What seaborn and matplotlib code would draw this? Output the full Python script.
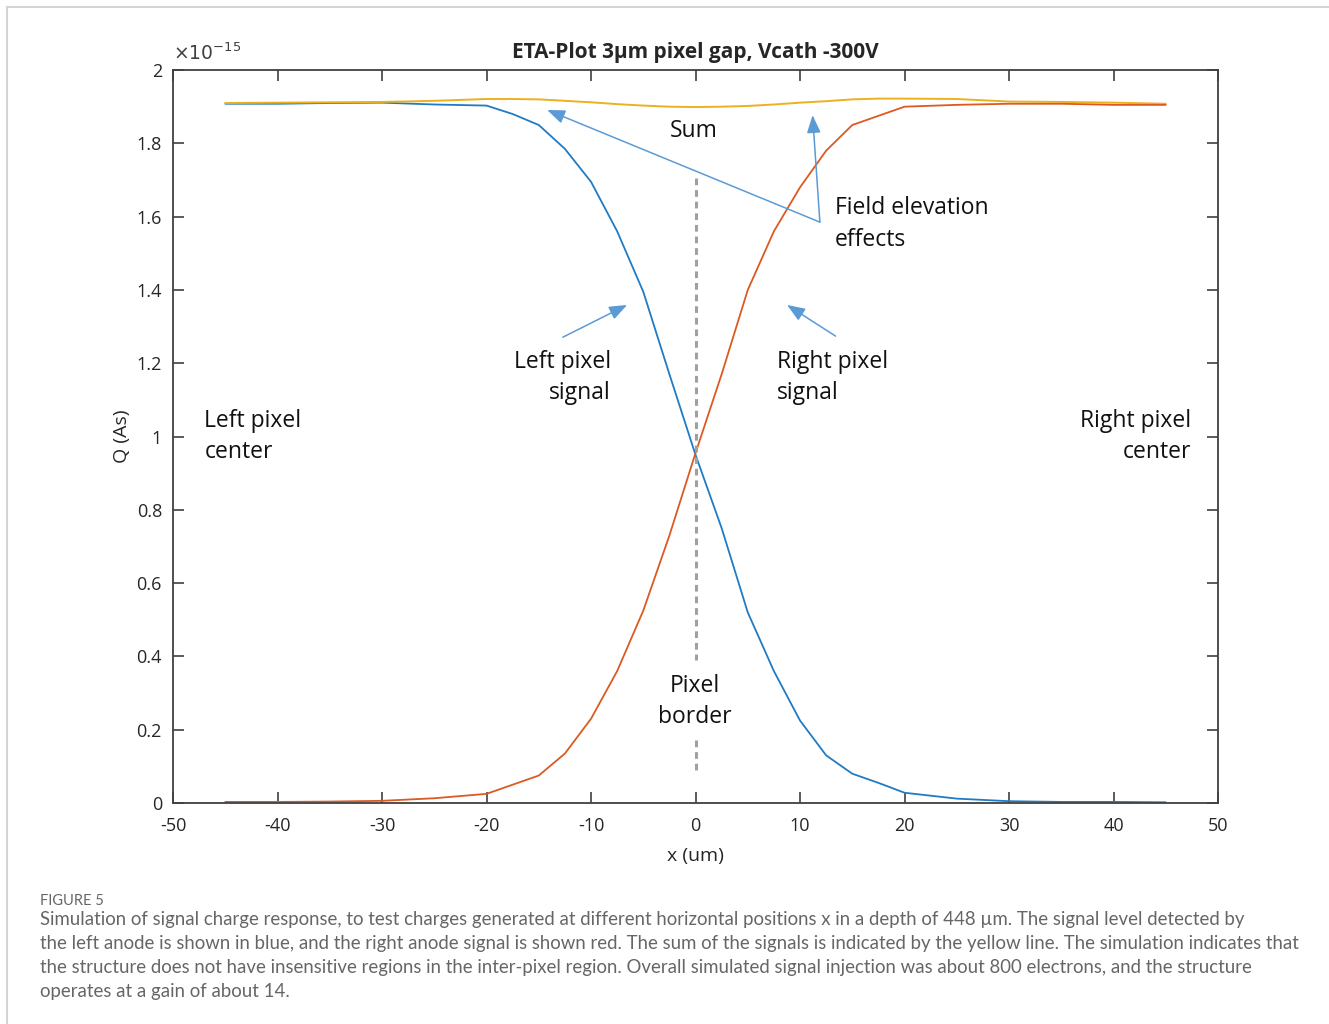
import numpy as np
import pandas as pd
import matplotlib
matplotlib.use("Agg")
import matplotlib.pyplot as plt
from matplotlib.lines import Line2D
import seaborn as sns

# ---- data (charge in units of 1e-15 As) ----
x_um = [-45, -40, -35, -30, -25, -20, -17.5, -15, -12.5, -10, -7.5, -5, -2.5, 0,
        2.5, 5, 7.5, 10, 12.5, 15, 17.5, 20, 25, 30, 35, 40, 45]
left_signal = [1.908, 1.908, 1.910, 1.911, 1.906, 1.903, 1.880, 1.850, 1.785, 1.695,
               1.560, 1.395, 1.170, 0.950, 0.750, 0.520, 0.360, 0.225, 0.130, 0.080,
               0.055, 0.028, 0.012, 0.005, 0.003, 0.003, 0.002]
right_signal = [0.003, 0.003, 0.004, 0.006, 0.013, 0.025, 0.050, 0.075, 0.135, 0.230,
                0.360, 0.525, 0.730, 0.955, 1.170, 1.400, 1.560, 1.680, 1.780, 1.850,
                1.875, 1.900, 1.905, 1.908, 1.908, 1.905, 1.905]
sum_signal = [1.910, 1.911, 1.912, 1.913, 1.916, 1.921, 1.921, 1.920, 1.916, 1.912,
              1.907, 1.903, 1.900, 1.899, 1.900, 1.902, 1.906, 1.911, 1.915, 1.920,
              1.922, 1.922, 1.921, 1.914, 1.913, 1.911, 1.908]

x_ticks = [-50, -40, -30, -20, -10, 0, 10, 20, 30, 40, 50]
y_ticks = [0, 0.2, 0.4, 0.6, 0.8, 1.0, 1.2, 1.4, 1.6, 1.8, 2.0]

title = "ETA-Plot 3\u00b5m pixel gap, Vcath -300V"
caption_head = "FIGURE 5"
caption_lines = [
    "Simulation of signal charge response, to test charges generated at different horizontal positions x in a depth of 448 \u00b5m. The signal level detected by",
    "the left anode is shown in blue, and the right anode signal is shown red. The sum of the signals is indicated by the yellow line. The simulation indicates that",
    "the structure does not have insensitive regions in the inter-pixel region. Overall simulated signal injection was about 800 electrons, and the structure",
    "operates at a gain of about 14.",
]

df = pd.DataFrame({"x": x_um, "left": left_signal, "right": right_signal, "sum": sum_signal})

sns.set_theme(style="ticks")
plt.rcParams["font.family"] = ["Open Sans", "DejaVu Sans"]
plt.rcParams["mathtext.fontset"] = "dejavusans"

fig = plt.figure(figsize=(13.29, 10.24), dpi=100)
ax = fig.add_axes([0.1302, 0.2158, 0.7863, 0.7158])

c_blue = "#1F7BC4"
c_red = "#DB5A22"
c_yel = "#EDB120"
c_ann = "#5B9BD5"

sns.lineplot(data=df, x="x", y="left", ax=ax, color=c_blue, lw=1.3)
sns.lineplot(data=df, x="x", y="sum", ax=ax, color=c_yel, lw=1.4)
sns.lineplot(data=df, x="x", y="right", ax=ax, color=c_red, lw=1.3)

ax.set_xlim(-50, 50)
ax.set_ylim(0, 2)
ax.set_xticks(x_ticks)
ax.set_yticks(y_ticks)
ax.set_xticklabels([f"{v:g}" for v in x_ticks])
ax.set_yticklabels([f"{v:g}" for v in y_ticks])
ax.tick_params(direction="in", length=8, width=1.2, colors="#404040",
               labelsize=13, labelcolor="#262626", top=True, right=True)
ax.tick_params(axis="x", pad=10)
ax.tick_params(axis="y", pad=8)
for s in ax.spines.values():
    s.set_color("#404040")
    s.set_linewidth(1.3)
    s.set_visible(True)

ax.set_xlabel("x (um)", fontsize=14, color="#262626", labelpad=9)
ax.set_ylabel("Q (As)", fontsize=14, color="#262626", labelpad=4)
ax.set_title(title, fontsize=15, fontweight="bold", color="#262626", pad=9)
ax.text(0.0, 1.008, r"$\times10^{-15}$", transform=ax.transAxes, fontsize=13.5,
        color="#404040", ha="left", va="bottom")

# dashed pixel border line
ax.plot([0, 0], [1.705, 0.39], color="#A0A0A0", lw=2.2, ls=(0, (2.2, 1.6)))
ax.plot([0, 0], [0.172, 0.085], color="#A0A0A0", lw=2.2, ls=(0, (2.2, 1.6)))

tk = dict(fontsize=16.5, color="#111111")
ls = 1.4
ax.text(-0.15, 1.834, "Sum", ha="center", va="center", **tk)
ax.text(13.35, 1.58, "Field elevation\neffects", ha="left", va="center", linespacing=ls, **tk)
ax.text(-8.1, 1.162, "Left pixel\nsignal", ha="right", va="center", multialignment="right", linespacing=ls, **tk)
ax.text(7.8, 1.162, "Right pixel\nsignal", ha="left", va="center", linespacing=ls, **tk)
ax.text(-47.0, 1.001, "Left pixel\ncenter", ha="left", va="center", linespacing=ls, **tk)
ax.text(47.4, 1.001, "Right pixel\ncenter", ha="right", va="center", multialignment="right", linespacing=ls, **tk)
ax.text(-0.1, 0.278, "Pixel\nborder", ha="center", va="center", multialignment="center", linespacing=ls, **tk)

ap = dict(arrowstyle="-|>,head_length=0.9,head_width=0.35", color=c_ann, lw=1.1, shrinkA=0, shrinkB=0)
ax.annotate("", xy=(-14.2, 1.891), xytext=(11.9, 1.585), arrowprops=ap)
ax.annotate("", xy=(11.2, 1.877), xytext=(11.9, 1.585), arrowprops=ap)
ax.annotate("", xy=(-6.55, 1.359), xytext=(-12.7, 1.271), arrowprops=ap)
ax.annotate("", xy=(8.76, 1.359), xytext=(13.4, 1.274), arrowprops=ap)

# page frame
fig.add_artist(Line2D([7/1329, 1.0], [1 - 7/1024, 1 - 7/1024], color="#d4d4d4", lw=1.5, transform=fig.transFigure))
fig.add_artist(Line2D([7/1329, 7/1329], [0.0, 1 - 7/1024], color="#d4d4d4", lw=1.5, transform=fig.transFigure))

# caption
fig.text(40/1329, 1 - 901/1024, caption_head, fontsize=10.5, color="#666666", va="center", ha="left",
         family=["Lato", "DejaVu Sans"])
for i, line in enumerate(caption_lines):
    fig.text(40/1329, 1 - (920 + 24 * i)/1024, line, fontsize=13.4, color="#666666", va="center", ha="left",
             family=["Lato", "DejaVu Sans"])

fig.savefig("out.png", dpi=100)
